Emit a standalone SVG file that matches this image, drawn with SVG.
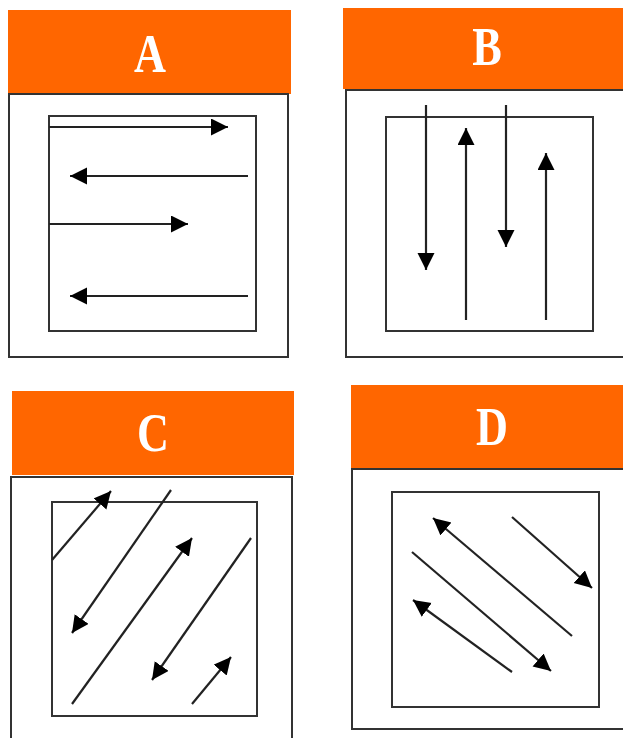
<svg xmlns="http://www.w3.org/2000/svg" width="623" height="738" viewBox="0 0 623 738">
<style>
.hdr{fill:#FF6600;}
.box{fill:none;stroke:#333;stroke-width:2;}
.ln{fill:none;stroke:#222;stroke-width:2.2;}
.lbl{font-family:"Liberation Serif","Times New Roman",serif;font-weight:bold;font-size:54px;fill:#fff;text-anchor:middle;}
</style>
<defs>
<marker id="ah" markerUnits="userSpaceOnUse" markerWidth="18" markerHeight="18" refX="17" refY="8.5" orient="auto">
<path d="M0,0 L17,8.5 L0,17 z" fill="#000"/>
</marker>
</defs>
<rect width="623" height="738" fill="#fff"/>
<g id="panelA">
<rect class="hdr" x="8" y="10" width="283" height="84"/>
<text class="lbl" transform="translate(150,72) scale(0.82,1)">A</text>
<rect class="box" x="9" y="94" width="279" height="263"/>
<rect class="box" x="49" y="116" width="207" height="215"/>
</g>
<g id="panelB">
<rect class="hdr" x="343" y="8" width="280" height="81"/>
<text class="lbl" transform="translate(487,65) scale(0.82,1)">B</text>
<path class="box" d="M624,90 H346 V357 H624"/>
<rect class="box" x="386" y="117" width="207" height="214"/>
</g>
<g id="panelC">
<rect class="hdr" x="12" y="391" width="282" height="84"/>
<text class="lbl" transform="translate(153,451) scale(0.82,1)">C</text>
<path class="box" d="M11,740 V477 H292 V740"/>
<rect class="box" x="52" y="502" width="205" height="214"/>
</g>
<g id="panelD">
<rect class="hdr" x="351" y="385" width="272" height="84"/>
<text class="lbl" transform="translate(492,445) scale(0.82,1)">D</text>
<path class="box" d="M624,469 H352 V729 H624"/>
<rect class="box" x="392" y="492" width="207" height="215"/>
</g>
<g id="connectors">
<line class="ln" x1="49" y1="127" x2="228" y2="127" marker-end="url(#ah)"/>
<line class="ln" x1="248" y1="176" x2="70" y2="176" marker-end="url(#ah)"/>
<line class="ln" x1="49" y1="224" x2="188" y2="224" marker-end="url(#ah)"/>
<line class="ln" x1="248" y1="296" x2="70" y2="296" marker-end="url(#ah)"/>
<line class="ln" x1="426" y1="105" x2="426" y2="270" marker-end="url(#ah)"/>
<line class="ln" x1="466" y1="320" x2="466" y2="128" marker-end="url(#ah)"/>
<line class="ln" x1="506" y1="105" x2="506" y2="247" marker-end="url(#ah)"/>
<line class="ln" x1="546" y1="320" x2="546" y2="153" marker-end="url(#ah)"/>
<line class="ln" x1="52" y1="560" x2="111" y2="491" marker-end="url(#ah)"/>
<line class="ln" x1="171" y1="490" x2="72" y2="633" marker-end="url(#ah)"/>
<line class="ln" x1="72" y1="704" x2="192" y2="538" marker-end="url(#ah)"/>
<line class="ln" x1="251" y1="538" x2="152" y2="680" marker-end="url(#ah)"/>
<line class="ln" x1="192" y1="704" x2="231" y2="657" marker-end="url(#ah)"/>
<line class="ln" x1="572" y1="636" x2="433" y2="518" marker-end="url(#ah)"/>
<line class="ln" x1="512" y1="517" x2="592" y2="588" marker-end="url(#ah)"/>
<line class="ln" x1="412" y1="552" x2="551" y2="671" marker-end="url(#ah)"/>
<line class="ln" x1="512" y1="672" x2="413" y2="600" marker-end="url(#ah)"/>
</g>
</svg>
